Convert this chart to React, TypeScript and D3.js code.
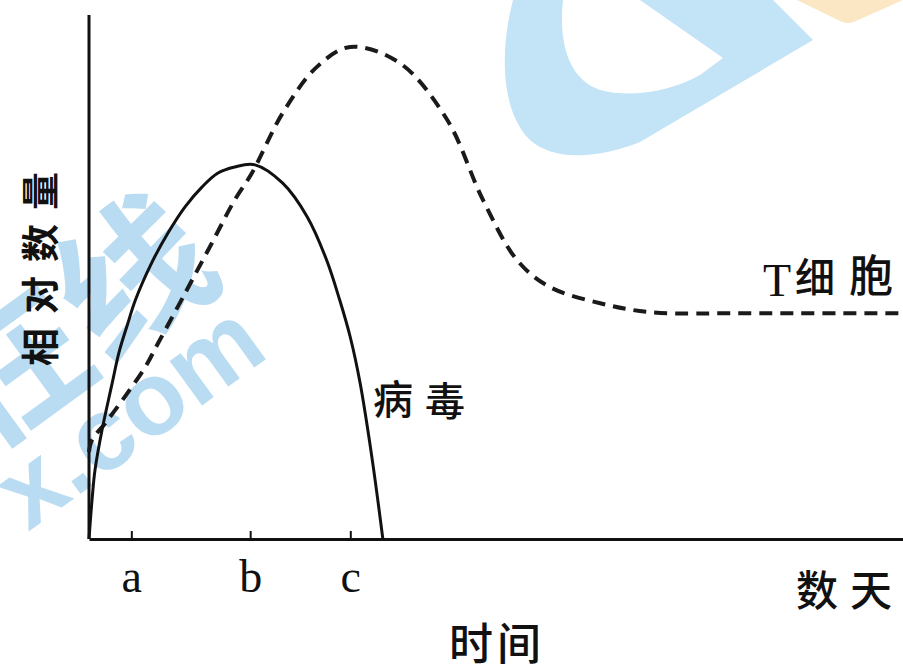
import React, { useEffect, useRef } from "react";
import * as d3 from "d3";

// time in arbitrary "days" (0-100), relative amount (0-100)
const virusDays = [0, 0.37, 0.74, 1.6, 2.8, 3.7, 4.7, 5.7, 7.7, 9.7, 11.8, 13.9, 15.8, 17.9, 20.4, 23.8, 26.8, 29.2, 30.8, 32.1, 33.3, 34.8, 36.1];
const virusLevel = [0, 7.4, 13.2, 20.8, 29.4, 35.7, 40.8, 45.6, 52.7, 58.4, 63.4, 67.2, 69.8, 71.0, 71.4, 67.9, 61.5, 53.2, 45.6, 38.5, 29.8, 15.1, 0];

const tcellDays = [0, 0.37, 2.0, 4.1, 6.9, 8.5, 11.8, 15.1, 17.9, 20.0, 23.8, 28.0, 32.1, 38.2, 44.0, 48.4, 52.6, 56.6, 62.8, 68.9, 81.2, 100];
const tcellLevel = [16.6, 18.9, 22.1, 26.5, 32.8, 37.4, 46.9, 56.5, 64.7, 69.8, 81.3, 90.1, 93.9, 90.8, 80.0, 64.7, 53.2, 48.1, 45.0, 43.3, 43.1, 43.1];

const tickDays = [5.2, 19.8, 32.1];
const tickLabels = ["a", "b", "c"];

const yLabelChars = ["量", "数", "对", "相"];

const CJK = "'Noto Sans CJK SC', sans-serif";
const SERIF = "'Liberation Serif', 'DejaVu Serif', serif";

const App = () => {
  const svgRef = useRef<SVGSVGElement>(null);

  useEffect(() => {
    const width = 903;
    const height = 668;
    const svg = d3.select(svgRef.current).attr("width", width).attr("height", height);
    svg.selectAll("*").remove();

    const x = d3.scaleLinear().domain([0, 100]).range([89, 903]);
    const y = d3.scaleLinear().domain([0, 100]).range([539, 15]);

    // watermark (background)
    const wm = svg.append("g");
    wm.append("path")
      .attr(
        "d",
        "M513,0 C500,50 500,110 530,140 C555,162 600,158 640,142 L813,40 L773,0 Z " +
          "M563,0 C558,45 570,80 600,90 C630,98 670,92 700,75 L723,58 L640,0 Z"
      )
      .attr("fill-rule", "evenodd")
      .attr("fill", "#c3e3f7");
    wm.append("path")
      .attr("d", "M797,0 L840,21 Q848,25 856,21 L903,0 Z")
      .attr("fill", "#fbe7c4");
    wm.append("text")
      .attr("transform", "translate(28,532) rotate(-36)")
      .attr("font-family", "'Liberation Sans', Arial, sans-serif")
      .attr("font-weight", "bold")
      .attr("font-size", 104)
      .attr("fill", "#b9dcf3")
      .text("x.com");
    wm.append("text")
      .attr("transform", "translate(105,365) rotate(-36)")
      .attr("font-family", CJK)
      .attr("font-weight", "bold")
      .attr("font-size", 150)
      .attr("fill", "#b9dcf3")
      .attr("text-anchor", "middle")
      .text("在线");

    // axes
    svg.append("line")
      .attr("x1", x(0)).attr("x2", x(0))
      .attr("y1", y(100)).attr("y2", y(0))
      .attr("stroke", "#111").attr("stroke-width", 3);

    const xAxis = d3
      .axisBottom(x)
      .tickValues(tickDays)
      .tickFormat((d, i) => tickLabels[i])
      .tickSizeInner(-8)
      .tickSizeOuter(0)
      .tickPadding(20);

    const gx = svg.append("g").attr("transform", `translate(0,${y(0)})`).call(xAxis);
    gx.select(".domain").attr("stroke", "#111").attr("stroke-width", 3);
    gx.selectAll(".tick line").attr("stroke", "#111").attr("stroke-width", 2);
    gx.selectAll(".tick text")
      .attr("font-family", SERIF)
      .attr("font-size", 46)
      .attr("fill", "#111");

    // curves
    const line = d3
      .line<[number, number]>()
      .x((d) => x(d[0]))
      .y((d) => y(d[1]))
      .curve(d3.curveCatmullRom.alpha(0.5));

    const virus = virusDays.map((d, i) => [d, virusLevel[i]] as [number, number]);
    const tcell = tcellDays.map((d, i) => [d, tcellLevel[i]] as [number, number]);

    svg.append("path")
      .attr("d", line(tcell))
      .attr("fill", "none")
      .attr("stroke", "#1a1a1a")
      .attr("stroke-width", 4)
      .attr("stroke-dasharray", "13 8");

    svg.append("path")
      .attr("d", line(virus))
      .attr("fill", "none")
      .attr("stroke", "#111")
      .attr("stroke-width", 3);

    // labels
    const labels = svg.append("g").attr("font-family", CJK).attr("fill", "#111");
    yLabelChars.forEach((c, i) => {
      labels.append("text")
        .attr("transform", `translate(37,${191 + i * 52}) rotate(-90)`)
        .attr("text-anchor", "middle")
        .attr("dominant-baseline", "central")
        .attr("font-size", 38)
        .attr("font-weight", "bold")
        .text(c);
    });

    labels.append("text").attr("x", 373).attr("y", 414).attr("font-size", 40).attr("font-weight", 500).text("病");
    labels.append("text").attr("x", 425).attr("y", 416).attr("font-size", 40).attr("font-weight", 500).text("毒");

    labels.append("text")
      .attr("x", 763).attr("y", 296)
      .attr("font-family", SERIF).attr("font-size", 46)
      .text("T");
    labels.append("text").attr("x", 795).attr("y", 292).attr("font-size", 40).attr("font-weight", 500).text("细");
    labels.append("text").attr("x", 849).attr("y", 292).attr("font-size", 44).attr("font-weight", 500).text("胞");

    labels.append("text").attr("x", 796).attr("y", 606).attr("font-size", 42).attr("font-weight", 500).text("数");
    labels.append("text").attr("x", 850).attr("y", 606).attr("font-size", 42).attr("font-weight", 500).text("天");

    labels.append("text").attr("x", 449).attr("y", 660).attr("font-size", 44).attr("font-weight", 500).text("时");
    labels.append("text").attr("x", 497).attr("y", 660).attr("font-size", 44).attr("font-weight", 500).text("间");
  }, []);

  return (
    <div style={{ position: "absolute", left: 0, top: 0, background: "#fff" }}>
      <svg ref={svgRef} style={{ display: "block" }}></svg>
    </div>
  );
};

export default App;
